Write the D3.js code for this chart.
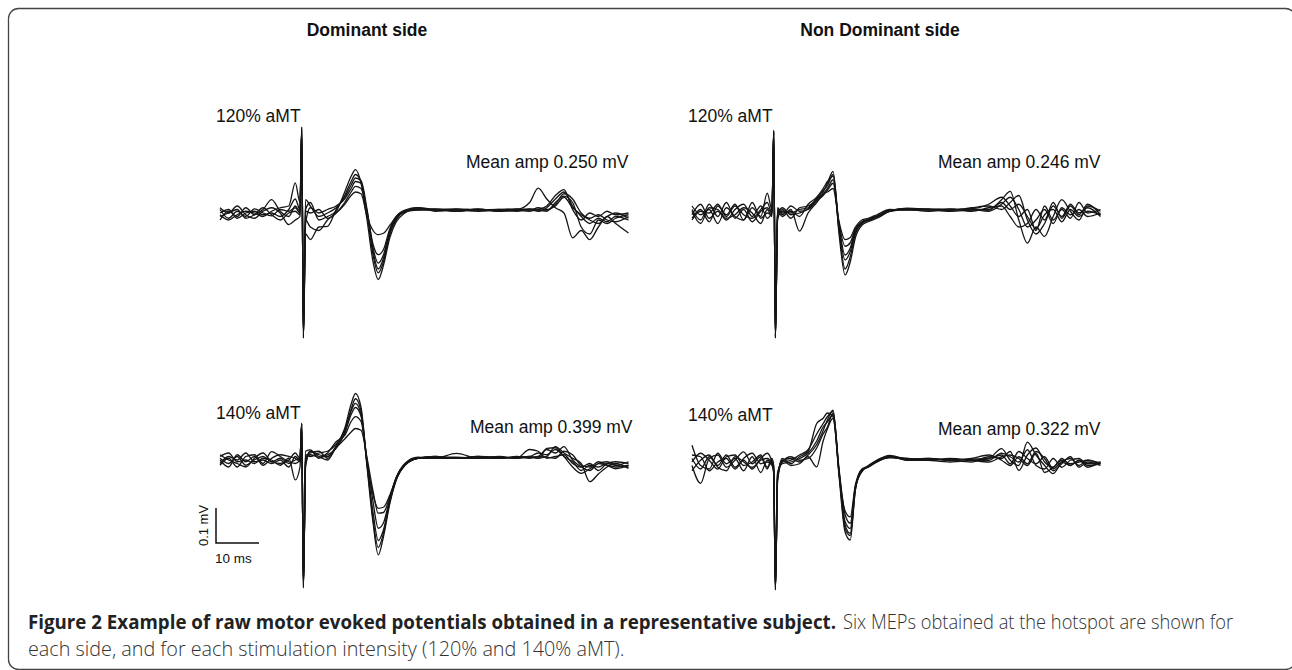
<!DOCTYPE html>
<html>
<head>
<meta charset="utf-8">
<script src="https://cdn.jsdelivr.net/npm/d3@7/dist/d3.min.js"></script>
<style>
  html, body { margin: 0; padding: 0; background: #fff; }
  svg { display: block; }
</style>
</head>
<body>
<svg id="chart" width="1292" height="670"></svg>
<script>
// ---------------- DATA ----------------
// time axis (ms from sweep start; stimulus at ~19 ms)
const timeMs = [0, 2, 4, 6, 8, 10, 12, 14, 16, 17.5, 18.6, 19.0, 19.4, 19.9, 21, 23, 25, 27, 29, 30.5,
  31.5, 32.8, 34.2, 35.6, 36.8, 38, 39.5, 41, 43, 46, 50, 55, 60, 65, 69, 72, 74, 76, 78, 80, 82, 84, 86, 88, 90, 92, 95];

// voltages in µV, six MEPs per condition
const dominant120 = [
  [10,-15,5,-10,12,0,-8,10,5,15,0,246,-358,10,30,-20,-10,5,60,105,124,85,-20,-140,-190,-150,-70,-25,0,15,10,8,10,8,5,10,5,15,40,60,20,-10,-30,-15,-25,-10,-20],
  [-20,5,-10,15,-5,10,38,5,-10,20,5,240,-350,-60,-76,-40,-38,10,50,90,110,90,0,-120,-171,-140,-60,-20,5,12,8,10,5,8,10,30,71,40,15,0,-71,-50,-76,-40,-10,-30,-57],
  [15,0,20,-5,-15,5,15,0,-33,-20,-10,235,-345,38,20,-10,0,15,45,80,100,92,10,-100,-143,-120,-50,-15,5,10,12,5,8,10,8,5,10,20,50,67,10,-20,0,-10,5,-5,0],
  [-5,-20,-5,5,0,-10,5,15,20,86,30,230,-340,-20,-40,-50,-20,0,30,60,76,70,5,-90,-119,-105,-45,-10,8,15,5,10,10,5,10,8,15,10,20,45,15,-5,-20,-30,-10,0,-15],
  [0,10,-15,0,5,-5,0,-10,10,40,10,245,-355,5,0,10,-15,0,25,50,60,55,-10,-50,-62,-58,-35,-10,5,8,10,12,8,10,12,10,8,5,30,48,30,-40,-60,-20,-30,-15,-5],
  [-10,0,10,-15,-5,15,-5,-20,0,5,-5,238,-350,-30,15,0,10,20,40,70,90,85,0,-110,-160,-130,-55,-15,3,10,8,5,12,5,8,12,10,8,25,55,40,0,-15,-5,-20,-25,-10]
];
const dominant140 = [
  [5,-10,10,-15,0,10,-5,5,-10,0,5,105,-366,-20,25,15,10,40,90,160,190,150,-20,-180,-271,-220,-124,-57,-15,5,8,5,8,5,8,5,10,30,20,38,0,-20,-30,-10,-15,-20,-15],
  [-15,5,-20,10,15,-10,24,10,-5,-10,0,100,-360,25,29,5,15,33,80,145,175,140,-10,-170,-250,-210,-120,-55,-15,5,10,5,10,8,5,10,5,33,35,10,-20,-38,-25,-10,-5,-15,-20],
  [10,20,-5,0,-10,5,0,-15,5,-57,-20,102,-355,5,15,8,20,52,70,110,124,110,0,-120,-195,-180,-110,-50,-12,5,5,19,5,8,5,8,5,10,38,20,5,-10,-62,-40,-20,-10,-24],
  [0,-20,15,-5,10,-15,5,15,10,5,-5,98,-350,-10,20,25,5,35,60,80,90,85,5,-90,-152,-150,-105,-50,-12,5,8,8,5,10,5,30,25,5,10,15,-10,-20,-10,-30,-10,-5,-10],
  [-10,10,0,20,-5,0,-10,0,-20,10,0,104,-362,15,10,20,25,45,85,140,162,130,-5,-100,-138,-135,-100,-50,-10,8,5,5,5,5,10,8,10,8,5,25,15,-15,-20,-5,-15,-25,-15],
  [15,0,-10,-20,5,20,-5,-10,0,20,5,103,-358,-5,25,10,0,38,75,130,150,125,-15,-150,-230,-200,-115,-52,-14,5,10,5,10,5,8,10,20,15,30,10,-5,-30,-15,-20,-10,-15,-5]
];
const nonDominant120 = [
  [10,-20,25,-10,30,-15,10,-25,5,15,0,237,-358,-10,5,0,10,15,40,60,85,119,-60,-177,-140,-70,-35,-25,-15,5,14,10,5,8,10,38,62,-20,-86,-40,-67,-10,38,5,-20,20,5],
  [-15,10,-25,20,-5,25,-20,15,-10,57,10,232,-352,5,-10,10,-52,0,30,55,70,95,-45,-134,-110,-55,-30,-20,-10,8,10,12,8,15,20,10,30,50,-20,-60,-30,20,-10,25,0,15,-10],
  [20,-5,10,-30,15,-10,-20,30,-15,0,-5,228,-348,15,-5,20,5,10,35,50,65,85,-30,-95,-85,-45,-25,-18,-8,5,12,8,10,12,25,45,20,-10,10,-50,20,-20,10,-15,30,0,10],
  [-5,25,-15,5,-20,10,25,-10,20,-15,5,235,-355,-20,10,-15,15,20,38,55,60,70,-25,-76,-70,-40,-20,-15,-5,10,8,10,12,5,15,20,-10,-40,-30,10,-20,30,-15,20,-5,25,-5],
  [5,-30,15,10,-15,-5,15,0,-30,10,-10,233,-356,10,0,5,-10,25,45,70,90,105,-50,-160,-125,-60,-30,-22,-12,5,10,5,10,10,5,25,45,10,-40,-20,10,-30,15,-5,10,-10,0],
  [-20,5,0,25,-10,20,-5,-15,10,30,0,230,-350,-5,15,-5,0,12,42,65,78,110,-35,-120,-100,-50,-28,-18,-10,8,12,10,8,12,8,30,10,25,-10,-45,-5,10,-25,10,-10,5,-5]
];
const nonDominant140 = [
  [10,-20,15,-10,20,-15,5,-20,10,25,0,-20,-366,-40,5,10,0,20,50,90,120,148,-40,-200,-223,-80,-24,-15,0,15,10,5,0,5,10,38,5,-10,57,20,-10,-33,0,10,-10,5,-5],
  [48,-10,-20,25,-5,10,-25,15,-30,5,-5,-30,-360,-50,10,-5,15,30,110,125,140,130,-30,-180,-204,-75,-20,-12,5,19,8,10,5,0,15,10,30,-24,20,40,0,-15,10,-10,5,-5,0],
  [-10,-61,10,20,-15,5,29,-5,15,-20,10,-10,-355,-30,0,15,5,10,40,80,100,140,-20,-150,-175,-70,-28,-10,5,15,5,8,5,10,20,5,-10,15,-5,30,10,-25,-5,15,-15,0,-10],
  [20,15,-25,0,10,-20,10,25,-5,0,-10,-25,-362,-35,-5,0,10,25,60,100,115,135,-35,-140,-157,-65,-22,-14,3,12,10,5,8,5,5,25,15,0,35,-10,-20,10,-15,5,10,-10,-5],
  [0,25,5,-20,15,20,-10,0,20,-15,5,-15,-358,-45,5,-10,-5,15,-14,60,95,125,-25,-170,-190,-72,-26,-12,2,17,5,5,10,5,0,15,20,10,-10,25,-30,-15,5,-5,0,5,-5],
  [-25,5,20,-15,-25,15,0,-15,5,10,-5,-35,-364,-55,0,5,20,35,80,110,130,145,-30,-190,-210,-78,-25,-13,0,14,8,10,5,8,10,20,-5,30,10,-5,15,-20,0,-10,5,-15,0]
];

const sideTitles = ["Dominant side", "Non Dominant side"];
const intensityLabels = ["120% aMT", "140% aMT"];
const meanAmps = [["0.250", "0.399"], ["0.246", "0.322"]]; // [side][intensity], mV
const scaleBar = { ms: 10, uV: 100, msLabel: "10 ms", uVLabel: "0.1 mV" };
const captionBold = "Figure 2 Example of raw motor evoked potentials obtained in a representative subject.";
const captionRest1 = "Six MEPs obtained at the hotspot are shown for";
const captionLine2 = "each side, and for each stimulation intensity (120% and 140% aMT).";

// ---------------- LAYOUT ----------------
const svg = d3.select("#chart");
const PX_PER_MS = 4.3;
const PX_PER_UV = 0.35;
const panelsLayout = [
  { side: 0, inten: 0, x0: 220, base: 213, data: dominant120 },
  { side: 0, inten: 1, x0: 220, base: 460, data: dominant140 },
  { side: 1, inten: 0, x0: 692, base: 213, data: nonDominant120 },
  { side: 1, inten: 1, x0: 692, base: 462, data: nonDominant140 }
];
const tDomain = d3.extent(timeMs);

// frame
svg.append("rect")
  .attr("x", 8.5).attr("y", 8.5)
  .attr("width", 1287).attr("height", 661)
  .attr("rx", 10).attr("ry", 10)
  .attr("fill", "none").attr("stroke", "#444").attr("stroke-width", 1.3);

// column titles
const titleX = [367, 880];
svg.selectAll("text.title").data(sideTitles).join("text")
  .attr("class", "title")
  .attr("x", (d, i) => titleX[i]).attr("y", 36)
  .attr("text-anchor", "middle")
  .attr("font-family", "Liberation Sans, Arial, sans-serif")
  .attr("font-weight", "bold").attr("font-size", 17.5)
  .attr("fill", "#111")
  .text(d => d);

const labelFont = "Liberation Sans, Arial, sans-serif";

panelsLayout.forEach(p => {
  const x = d3.scaleLinear().domain(tDomain).range([p.x0, p.x0 + (tDomain[1] - tDomain[0]) * PX_PER_MS]);
  const y = d3.scaleLinear().domain([-100, 100]).range([p.base + 100 * PX_PER_UV, p.base - 100 * PX_PER_UV]);
  const line = d3.line()
    .x((d, i) => x(timeMs[i]))
    .y(d => y(d))
    .curve(d3.curveMonotoneX);
  const g = svg.append("g");
  g.selectAll("path").data(p.data).join("path")
    .attr("d", line)
    .attr("fill", "none")
    .attr("stroke", "#151515")
    .attr("stroke-width", 1.3)
    .attr("stroke-linejoin", "round");

  const labelY = p.inten === 0 ? p.base - 91 : p.base - 41;
  const ampY = p.inten === 0 ? p.base - 45 : p.base - 27;
  g.append("text")
    .attr("x", x(tDomain[0]) - 4).attr("y", labelY)
    .attr("font-family", labelFont).attr("font-size", 17.5).attr("fill", "#111")
    .text(intensityLabels[p.inten]);
  g.append("text")
    .attr("x", x(tDomain[1]) + (p.inten === 1 && p.side === 0 ? 4 : 0)).attr("y", ampY)
    .attr("text-anchor", "end")
    .attr("font-family", labelFont).attr("font-size", 17.5).attr("fill", "#111")
    .text("Mean amp " + meanAmps[p.side][p.inten] + " mV");

  // calibration bar in the dominant 140% panel
  if (p.side === 0 && p.inten === 1) {
    const bx = p.x0 - 4, by = p.base + 83;
    const sb = d3.scaleLinear().domain([0, scaleBar.ms]).range([bx, bx + scaleBar.ms * PX_PER_MS]);
    const sv = d3.scaleLinear().domain([0, scaleBar.uV]).range([by, by - scaleBar.uV * PX_PER_UV]);
    g.append("path")
      .attr("d", `M${sb(0)},${sv(scaleBar.uV)}L${sb(0)},${sv(0)}L${sb(scaleBar.ms)},${sv(0)}`)
      .attr("fill", "none").attr("stroke", "#111").attr("stroke-width", 1.5);
    g.append("text")
      .attr("transform", `translate(${sb(0) - 8},${(sv(0) + sv(scaleBar.uV)) / 2}) rotate(-90)`)
      .attr("text-anchor", "middle")
      .attr("font-family", labelFont).attr("font-size", 13).attr("fill", "#111")
      .text(scaleBar.uVLabel);
    g.append("text")
      .attr("x", sb(0) - 1).attr("y", sv(0) + 20)
      .attr("font-family", labelFont).attr("font-size", 13.5).attr("fill", "#111")
      .text(scaleBar.msLabel);
  }
});

// caption: three separate text runs, one shared font size fitted to line 2
const capFont = "Open Sans, Noto Sans, sans-serif";
const cap2 = svg.append("text").attr("x", 28).attr("y", 656)
  .attr("font-family", capFont).attr("font-size", 16).attr("font-weight", 300).attr("fill", "#333")
  .text(captionLine2);
const capSize = 16 * (625 - 28) / cap2.node().getComputedTextLength();
cap2.attr("font-size", capSize);
const boldEnd = 836, restStart = 843, restEnd = 1233;
svg.append("text").attr("x", 28).attr("y", 629)
  .attr("font-family", capFont).attr("font-size", capSize).attr("font-weight", 700).attr("fill", "#222")
  .attr("textLength", boldEnd - 28).attr("lengthAdjust", "spacingAndGlyphs")
  .text(captionBold);
svg.append("text").attr("x", restStart).attr("y", 629)
  .attr("font-family", capFont).attr("font-size", capSize).attr("font-weight", 300).attr("fill", "#333")
  .attr("textLength", restEnd - restStart).attr("lengthAdjust", "spacingAndGlyphs")
  .text(captionRest1);
</script>
</body>
</html>
